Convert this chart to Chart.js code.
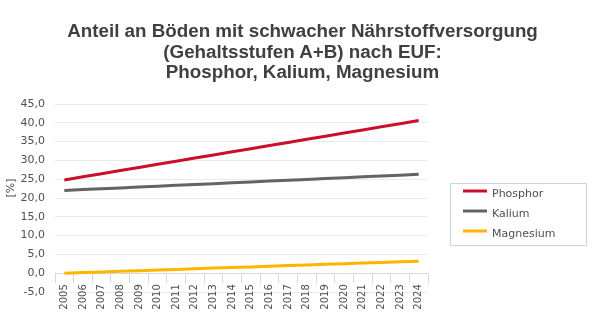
<!DOCTYPE html>
<html>
<head>
<meta charset="utf-8">
<script src="https://cdn.jsdelivr.net/npm/chart.js@4"></script>
<style>
html, body { margin: 0; padding: 0; background: #fff; }
#wrap { position: relative; width: 605px; height: 326px; }
#title {
    position: absolute; left: 0; width: 605px; top: 21px;
    text-align: center; white-space: nowrap;
    font: bold 18.8px "Liberation Sans", sans-serif;
    line-height: 20.5px; color: #404040;
}
canvas { position: absolute; left: 0; top: 0; }
</style>
</head>
<body>
<div id="wrap">
    <canvas id="chart" width="605" height="326"></canvas>
    <div id="title">Anteil an Böden mit schwacher Nährstoffversorgung<br>(Gehaltsstufen A+B) nach EUF:<br>Phosphor, Kalium, Magnesium</div>
</div>
<script>
"use strict";
var years = ['2005','2006','2007','2008','2009','2010','2011','2012','2013','2014',
             '2015','2016','2017','2018','2019','2020','2021','2022','2023','2024'];
var seriesNames = ['Phosphor', 'Kalium', 'Magnesium'];
var phosphor  = [24.80, 25.63, 26.46, 27.29, 28.13, 28.96, 29.79, 30.62, 31.45, 32.28,
                 33.12, 33.95, 34.78, 35.61, 36.44, 37.27, 38.11, 38.94, 39.77, 40.60];
var kalium    = [22.00, 22.23, 22.45, 22.68, 22.91, 23.13, 23.36, 23.58, 23.81, 24.04,
                 24.26, 24.49, 24.72, 24.94, 25.17, 25.39, 25.62, 25.85, 26.07, 26.30];
var magnesium = [0.00, 0.17, 0.34, 0.51, 0.67, 0.84, 1.01, 1.18, 1.35, 1.52,
                 1.68, 1.85, 2.02, 2.19, 2.36, 2.53, 2.69, 2.86, 3.03, 3.20];
var yTicks = {min: -5, max: 45, step: 5};
var yTitle = '[%]';

var textGray = '#505050';

// legend box on the right and the unit label, drawn from the chart data
var boxLegend = {
    id: 'boxLegend',
    afterDraw: (chart) => {
        var ctx = chart.ctx;
        ctx.save();
        ctx.strokeStyle = '#c8d5e2';
        ctx.lineWidth = 1;
        ctx.strokeRect(450.5, 183.5, 136, 62);
        ctx.font = '11px "DejaVu Sans"';
        ctx.textBaseline = 'middle';
        chart.data.datasets.forEach((ds, i) => {
            var y = 191 + i * 20;
            ctx.strokeStyle = ds.borderColor;
            ctx.lineWidth = 3;
            ctx.beginPath();
            ctx.moveTo(463, y);
            ctx.lineTo(487, y);
            ctx.stroke();
            ctx.fillStyle = textGray;
            ctx.fillText(ds.label, 492, y + 3);
        });
        // y unit, Excel puts it a bit above the middle
        ctx.translate(11, 188);
        ctx.rotate(-Math.PI / 2);
        ctx.textAlign = 'center';
        ctx.font = '11px "DejaVu Sans"';
        ctx.fillText(yTitle, 0, 0);
        ctx.restore();
    }
};

var mkSet = (label, data, color) => ({
    label: label,
    data: data,
    borderColor: color,
    backgroundColor: color,
    borderWidth: 3,
    pointRadius: 0,
    tension: 0,
    fill: false
});

new Chart(document.getElementById('chart'), {
    type: 'line',
    data: {
        labels: years,
        datasets: [
            mkSet(seriesNames[0], phosphor, '#c8102e'),
            mkSet(seriesNames[1], kalium, '#646464'),
            mkSet(seriesNames[2], magnesium, '#ffb400')
        ]
    },
    plugins: [boxLegend],
    options: {
        responsive: false,
        animation: false,
        layout: { padding: { left: 0, right: 177, top: 104, bottom: 34 } },
        plugins: {
            legend: { display: false },
            title: { display: false },
            tooltip: { enabled: false }
        },
        scales: {
            x: {
                position: { y: 0 },
                offset: true,
                grid: { offset: true, drawOnChartArea: false, drawTicks: true, tickLength: 9, color: '#d9d9d9' },
                border: { color: '#d9d9d9' },
                ticks: {
                    autoSkip: false, minRotation: 90, maxRotation: 90, padding: 2,
                    color: textGray, font: { family: 'DejaVu Sans', size: 10 }
                }
            },
            y: {
                min: yTicks.min,
                max: yTicks.max,
                afterFit: (s) => { s.width = 55; },
                grid: { color: '#ebebeb', drawTicks: false },
                border: { display: false },
                ticks: {
                    stepSize: yTicks.step, padding: 10,
                    color: textGray, font: { family: 'DejaVu Sans', size: 11 },
                    callback: (v) => v.toFixed(1).replace('.', ',')
                }
            }
        }
    }
});
</script>
</body>
</html>
